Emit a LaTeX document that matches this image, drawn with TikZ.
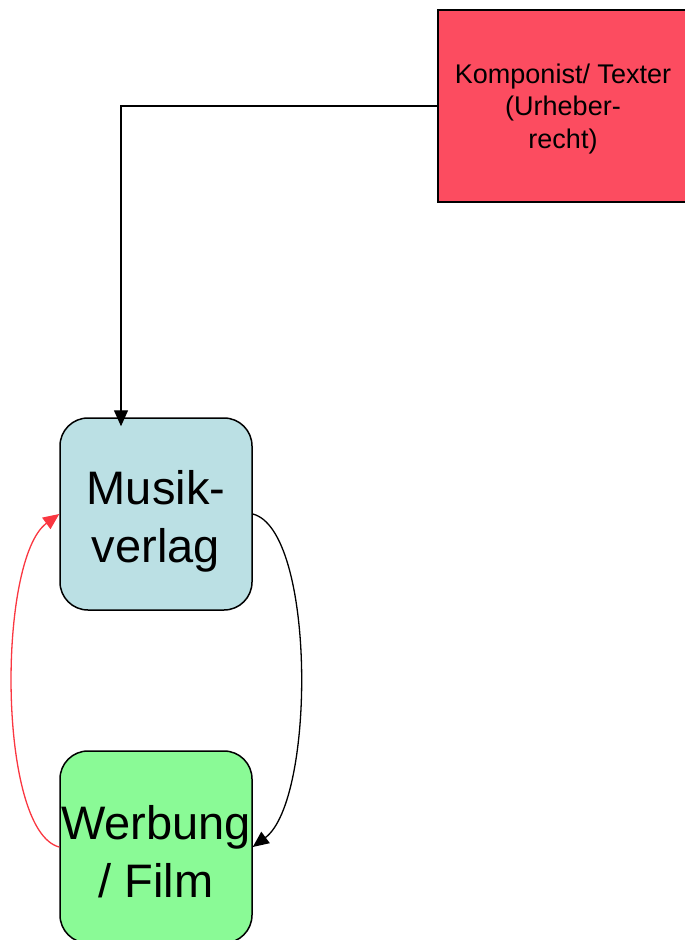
\documentclass[tikz,border=0pt]{standalone}
\usepackage{fontspec}
\setmainfont{Liberation Sans}
\usepackage{xcolor}
\usepackage{tikz}
\usetikzlibrary{arrows.meta,calc,positioning}

\definecolor{urhred}{RGB}{252,76,96}
\definecolor{mvblue}{RGB}{187,224,228}
\definecolor{wfgreen}{RGB}{138,250,150}
\definecolor{pfeilrot}{RGB}{250,55,65}

\tikzset{
  box/.style={draw, line width=1.5pt, minimum width=192pt, minimum height=192pt, inner sep=0pt, align=center},
  rbox/.style={box, rounded corners=28pt, text height=106pt, font=\fontsize{47}{58}\selectfont},
  arr/.style={line width=1.3pt, -{Triangle[length=16pt,width=14pt]}},
}

\begin{document}
\begin{tikzpicture}[x=1pt,y=-1pt]
\useasboundingbox (0,0) rectangle (685,940);

\node[box, fill=urhred, minimum width=250pt, text height=90pt, font=\fontsize{27}{32.5}\selectfont] (kt) at (563,106) {Komponist/ Texter\\(Urheber-\\recht)};

\node[rbox, fill=mvblue] (mv) at (156,514) {Musik-\\verlag};
\node[rbox, fill=wfgreen, text height=101pt] (wf) at (156,847) {Werbung\\/ Film};

\draw[arr, shorten >=-9pt] (kt.west) -| ([xshift=-35pt]mv.north);
\draw[arr] (mv.east) .. controls +(63,16) and +(63,-47) .. (wf.east);
\draw[arr, pfeilrot] (wf.west) .. controls +(-62,-16) and +(-62,45) .. (mv.west);

\end{tikzpicture}
\end{document}
